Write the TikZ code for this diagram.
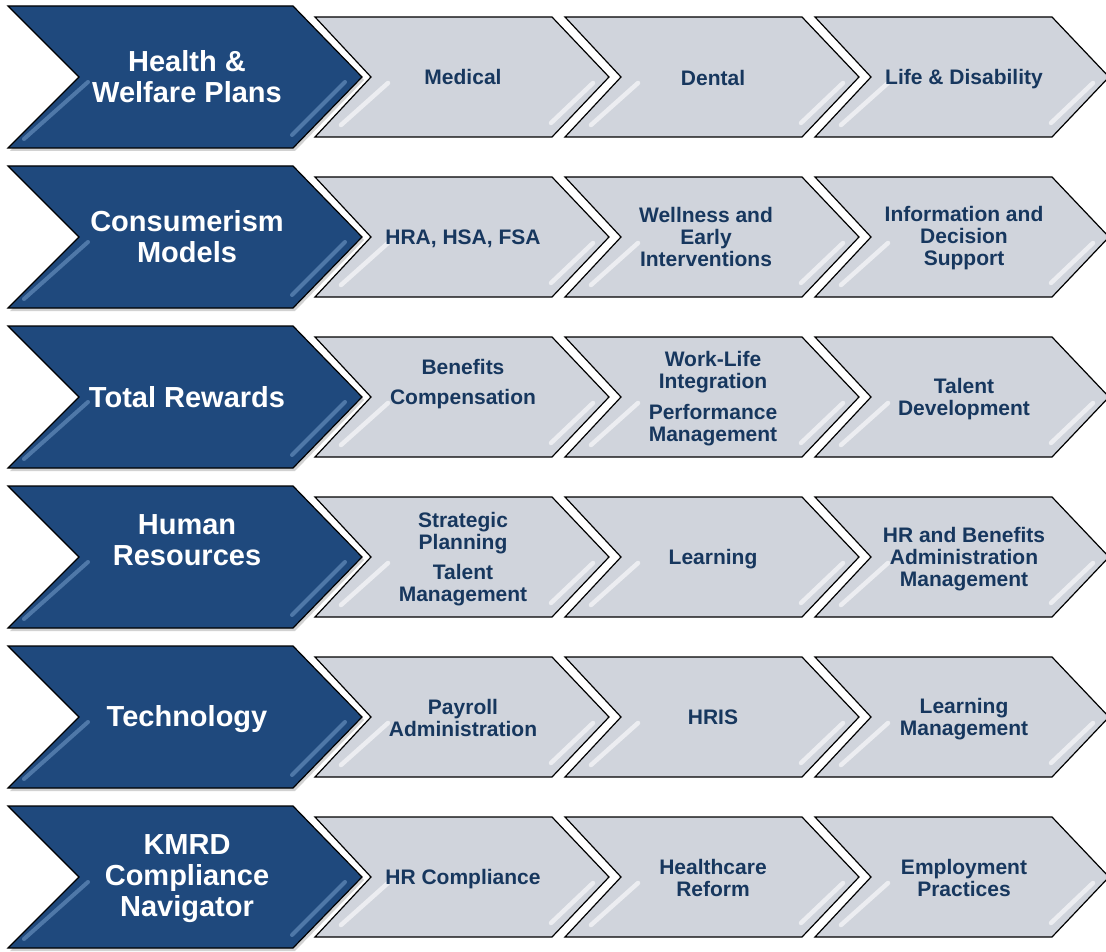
\documentclass[tikz,border=0pt]{standalone}
\usepackage{fontspec}
\setmainfont{Liberation Sans}
\usetikzlibrary{shadows}
\definecolor{kblue}{RGB}{31,73,125}
\definecolor{kgrey}{RGB}{208,212,220}
\definecolor{ktext}{RGB}{23,55,94}
\definecolor{kstreak}{RGB}{120,160,205}
\tikzset{
 bluechev/.style={fill=kblue, draw=black, line width=1.2pt, line join=miter,
   drop shadow={shadow xshift=2pt, shadow yshift=-3pt, opacity=0.35}},
 greychev/.style={fill=kgrey, draw=black, line width=1.2pt, line join=miter},
 bluetxt/.style={text=white, font=\fontsize{29}{31}\selectfont\bfseries, align=center, inner sep=0pt},
 greytxt/.style={text=ktext, font=\fontsize{21}{22}\selectfont\bfseries, align=center, inner sep=0pt},
 bstreak/.style={draw=kstreak, line width=4pt, line cap=round, opacity=0.55},
 gstreak/.style={draw=white, line width=4.5pt, line cap=round, opacity=0.6},
}
\begin{document}
\begin{tikzpicture}[x=1pt,y=-1pt]
\useasboundingbox (0,0) rectangle (1106,952);
\fill[white] (0,0) rectangle (1106,952);
\foreach \r in {0,...,5}{
  \pgfmathsetmacro{\cy}{77+160*\r}
  \path[bluechev] (8,\cy-71) -- (293,\cy-71) -- (362,\cy) -- (293,\cy+71) -- (8,\cy+71) -- (79,\cy) -- cycle;
  \draw[bstreak] (88,\cy+5) -- (24,\cy+62);
  \draw[bstreak] (345,\cy+5) -- (292,\cy+58);
  \foreach \k in {0,1,2}{
    \pgfmathsetmacro{\L}{315+250*\k}
    \path[greychev] (\L,\cy-60) -- (\L+237,\cy-60) -- (\L+294,\cy) -- (\L+237,\cy+60) -- (\L,\cy+60) -- (\L+56,\cy) -- cycle;
    \draw[gstreak] (\L+73,\cy+6) -- (\L+26,\cy+48);
    \draw[gstreak] (\L+278,\cy+6) -- (\L+236,\cy+46);
  }
}
% row 1
\node[bluetxt] (b0) at (187,77) {Health \&\\Welfare Plans};
\node[greytxt] (g01) at (463,77) {Medical};
\node[greytxt] (g02) at (713,78) {Dental};
\node[greytxt] (g03) at (964,79) {Life \& Disability};
% row 2
\node[bluetxt] (b1) at (187,237) {Consumerism\\Models};
\node[greytxt] (g11) at (463,239) {HRA, HSA, FSA};
\node[greytxt] (g12) at (706,237) {Wellness and\\Early\\Interventions};
\node[greytxt] (g13) at (964,238) {Information and\\Decision\\Support};
% row 3
\node[bluetxt] (b2) at (187,397) {Total Rewards};
\node[greytxt] (g21) at (463,384) {Benefits\\[8pt]Compensation};
\node[greytxt] (g22) at (713,399) {Work-Life\\Integration\\[9pt]Performance\\Management};
\node[greytxt] (g23) at (964,399) {Talent\\Development};
% row 4
\node[bluetxt] (b3) at (187,540) {Human\\Resources};
\node[greytxt] (g31) at (463,559) {Strategic\\Planning\\[8pt]Talent\\Management};
\node[greytxt] (g32) at (713,559) {Learning};
\node[greytxt] (g33) at (964,559) {HR and Benefits\\Administration\\Management};
% row 5
\node[bluetxt] (b4) at (187,719) {Technology};
\node[greytxt] (g41) at (463,718) {Payroll\\Administration};
\node[greytxt] (g42) at (713,717) {HRIS};
\node[greytxt] (g43) at (964,719) {Learning\\Management};
% row 6
\node[bluetxt] (b5) at (187,879) {KMRD\\Compliance\\Navigator};
\node[greytxt] (g51) at (463,879) {HR Compliance};
\node[greytxt] (g52) at (713,878) {Healthcare\\Reform};
\node[greytxt] (g53) at (964,878) {Employment\\Practices};
\end{tikzpicture}
\end{document}
